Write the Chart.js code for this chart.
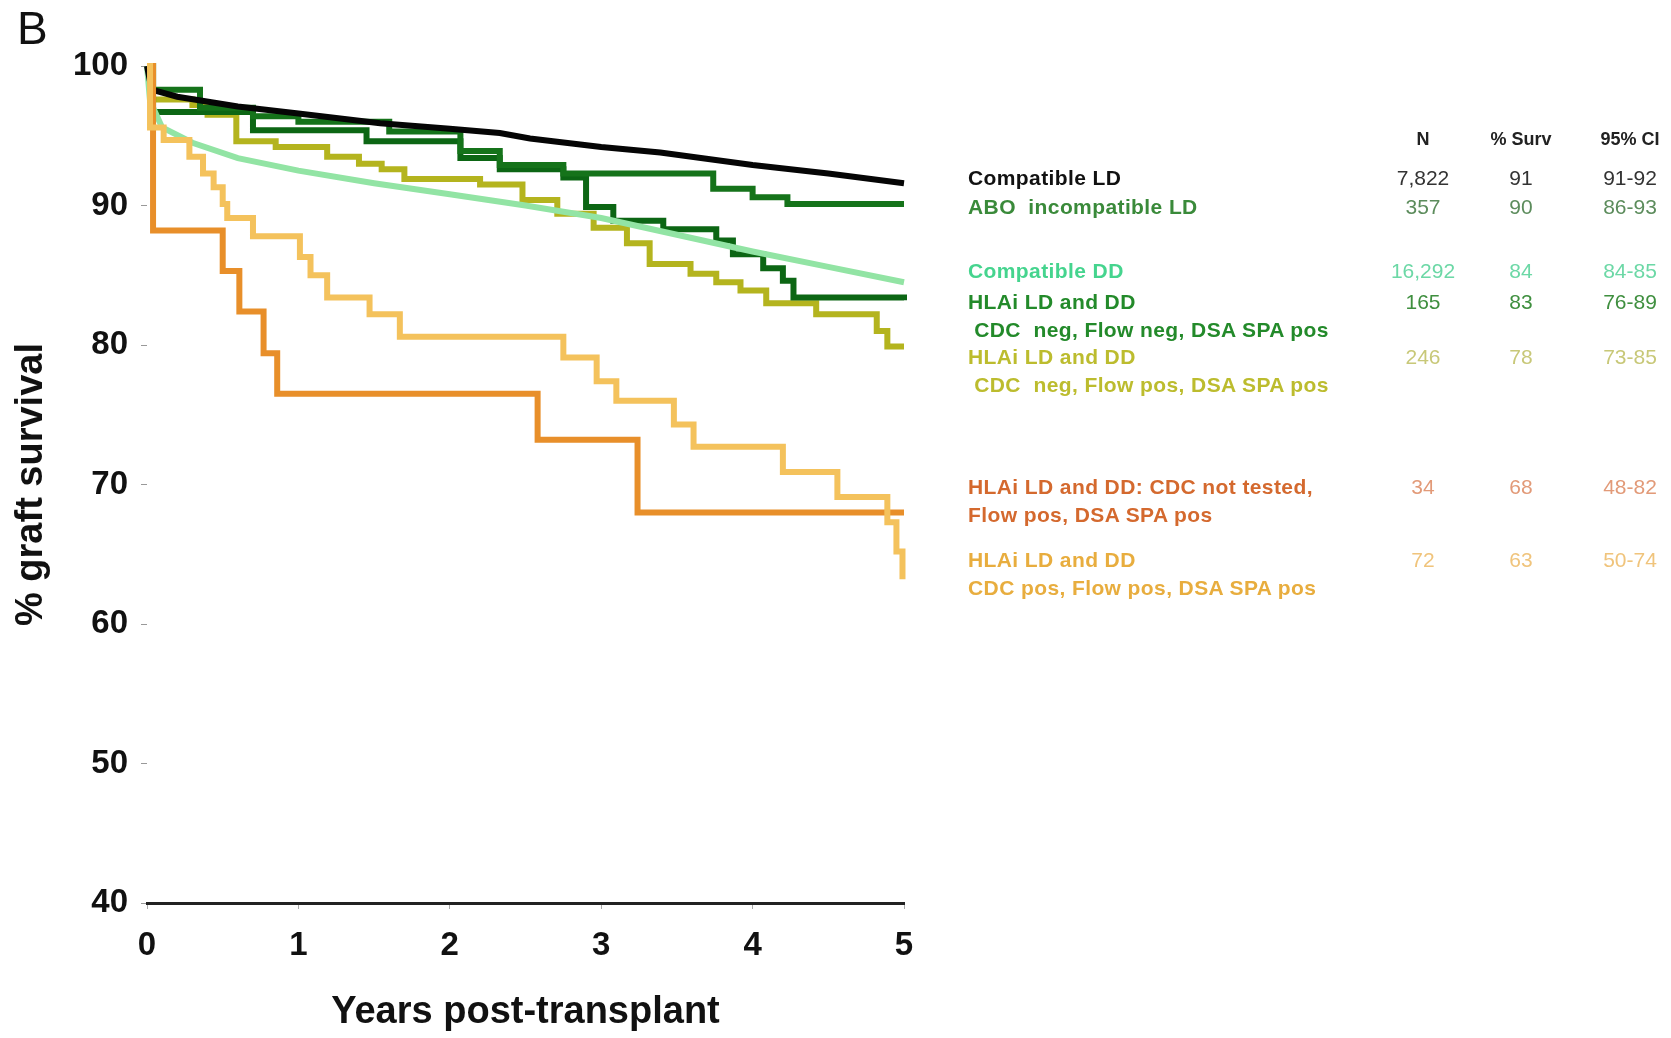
<!DOCTYPE html>
<html>
<head>
<meta charset="utf-8">
<script src="https://cdn.jsdelivr.net/npm/chart.js@4.4.1/dist/chart.umd.min.js"></script>
<style>
  html, body { margin: 0; padding: 0; background: #fff; }
  #wrap { position: relative; width: 1671px; height: 1038px; overflow: hidden; }
  #chart { position: absolute; left: 0; top: 0; }
  .txt { position: absolute; white-space: pre; font-family: "Liberation Sans", Arial, sans-serif; line-height: 24px; }
  .bold { font-weight: bold; }
</style>
</head>
<body>
<div id="wrap">
  <canvas id="chart" width="1671" height="1038"></canvas>
  <div class="txt" style="left:17px; top:5px; font-size:46px; line-height:46px; color:#111;">B</div>
  <div id="legend"></div>
</div>
<script>
// time axis values (years) and survival (%)
const compLdT = [0, 0.03, 0.2, 0.6, 1.0, 1.54, 2.0, 2.33, 2.53, 3.0, 3.39, 4.0, 4.5, 5.0];
const compLdS = [100, 98.3, 97.8, 97.1, 96.6, 95.9, 95.5, 95.2, 94.8, 94.2, 93.8, 92.9, 92.3, 91.6];

const aboT = [0, 0.04, 0.35, 0.7, 1.0, 1.6, 2.07, 2.33, 2.75, 3.74, 4.0, 4.23, 5.0];
const aboS = [100, 98.3, 97.0, 96.4, 96.0, 95.3, 93.9, 92.9, 92.3, 91.2, 90.6, 90.1, 90.1];

const compDdT = [0, 0.02, 0.1, 0.3, 0.6, 1.0, 1.5, 2.0, 2.5, 3.0, 3.5, 4.0, 4.5, 5.0];
const compDdS = [100, 97.5, 95.6, 94.5, 93.4, 92.5, 91.6, 90.8, 90.0, 89.1, 87.9, 86.7, 85.6, 84.5];

const negNegT = [0, 0.04, 0.7, 1.45, 2.07, 2.33, 2.75, 2.9, 3.08, 3.41, 3.76, 3.87, 4.07, 4.2, 4.27, 5.0];
const negNegS = [100, 96.7, 95.4, 94.6, 93.4, 92.6, 92.0, 89.9, 88.9, 88.3, 87.5, 86.5, 85.5, 84.6, 83.4, 83.2];

const negPosT = [0, 0.02, 0.3, 0.4, 0.59, 0.85, 1.19, 1.4, 1.55, 1.7, 2.2, 2.48, 2.71, 2.95, 3.17, 3.32, 3.59, 3.76, 3.92, 4.09, 4.42, 4.82, 4.89, 5.0];
const negPosS = [100, 97.6, 97.2, 96.5, 94.6, 94.2, 93.5, 93.0, 92.6, 91.9, 91.5, 90.4, 89.4, 88.4, 87.3, 85.8, 85.1, 84.5, 83.9, 83.0, 82.2, 81.0, 79.9, 79.9];

const notTestedT = [0, 0.04, 0.50, 0.61, 0.77, 0.86, 2.58, 3.24, 5.0];
const notTestedS = [100, 88.2, 85.3, 82.4, 79.4, 76.5, 73.2, 68.0, 68.0];

const cdcPosT = [0, 0.02, 0.11, 0.28, 0.37, 0.44, 0.50, 0.53, 0.70, 1.01, 1.08, 1.19, 1.47, 1.67, 2.75, 2.97, 3.10, 3.48, 3.61, 4.20, 4.56, 4.89, 4.95, 4.99];
const cdcPosS = [100, 95.6, 94.7, 93.5, 92.3, 91.3, 90.1, 89.1, 87.8, 86.3, 85.0, 83.4, 82.2, 80.6, 79.1, 77.4, 76.0, 74.3, 72.7, 70.9, 69.1, 67.3, 65.2, 63.2];

// legend table
const groupLabels = [
    'Compatible LD',
    'ABO  incompatible LD',
    'Compatible DD',
    'HLAi LD and DD\n CDC  neg, Flow neg, DSA SPA pos',
    'HLAi LD and DD\n CDC  neg, Flow pos, DSA SPA pos',
    'HLAi LD and DD: CDC not tested,\nFlow pos, DSA SPA pos',
    'HLAi LD and DD\nCDC pos, Flow pos, DSA SPA pos'
];
const groupN = ['7,822', '357', '16,292', '165', '246', '34', '72'];
const groupSurv = ['91', '90', '84', '83', '78', '68', '63'];
const groupCI = ['91-92', '86-93', '84-85', '76-89', '73-85', '48-82', '50-74'];
const tableHeaders = ['N', '% Surv', '95% CI'];

// styles
const lineColors = ['#050505', '#15731a', '#92e4a4', '#0c6614', '#b4b41e', '#e88f2a', '#f4c25c'];
const labelColors = ['#111111', '#3a8a3a', '#45d48e', '#238a2a', '#bcbc2e', '#d4692e', '#e8ad3e'];
const numberColors = ['#333333', '#5c8c5c', '#6cd8a6', '#3f8f3f', '#c8c878', '#e29a78', '#f0c47c'];
const rowY = [178, 207, 271, 302, 357, 487, 560];
const colX = [1423, 1521, 1630];
const fontFamily = '"Liberation Sans", Arial, sans-serif';

function toPoints(ts, ss) {
    return ts.map((t, i) => ({ x: t, y: ss[i] }));
}

function makeSet(ts, ss, idx, stepped, width) {
    return {
        data: toPoints(ts, ss),
        borderColor: lineColors[idx],
        borderWidth: width,
        borderJoinStyle: 'miter',
        borderCapStyle: 'butt',
        stepped: stepped,
        fill: false,
        pointRadius: 0,
        clip: 10
    };
}

// first dataset ends up on top
const datasets = [
    makeSet(cdcPosT, cdcPosS, 6, true, 6),
    makeSet(notTestedT, notTestedS, 5, true, 6),
    makeSet(compLdT, compLdS, 0, false, 6),
    makeSet(compDdT, compDdS, 2, false, 6),
    makeSet(aboT, aboS, 1, true, 6),
    makeSet(negNegT, negNegS, 3, true, 6),
    makeSet(negPosT, negPosS, 4, true, 6)
];

new Chart(document.getElementById('chart'), {
    type: 'line',
    data: { datasets },
    options: {
        responsive: false,
        animation: false,
        devicePixelRatio: 1,
        layout: { padding: { top: 66, right: 1671 - 904, bottom: 0, left: 0 } },
        plugins: { legend: { display: false }, tooltip: { enabled: false } },
        scales: {
            x: {
                type: 'linear',
                min: 0,
                max: 5,
                ticks: { stepSize: 1, padding: 17, color: '#111', font: { family: fontFamily, size: 33, weight: 'bold' } },
                border: { display: true, color: '#222', width: 3 },
                grid: { drawOnChartArea: false, tickLength: 6, color: '#aaa' },
                title: {
                    display: true,
                    text: 'Years post-transplant',
                    color: '#111',
                    font: { family: fontFamily, size: 38, weight: 'bold' },
                    padding: { top: 0, bottom: 3 }
                },
                afterFit: (s) => { s.height = 1038 - 903; }
            },
            y: {
                min: 40,
                max: 100,
                ticks: { stepSize: 10, padding: 13, color: '#111', font: { family: fontFamily, size: 33, weight: 'bold' } },
                border: { display: false },
                grid: { drawOnChartArea: false, tickLength: 6, color: '#999' },
                title: {
                    display: true,
                    text: '% graft survival',
                    color: '#111',
                    font: { family: fontFamily, size: 38, weight: 'bold' },
                    padding: { top: 9, bottom: 0 }
                },
                afterFit: (s) => { s.width = 147; }
            }
        }
    }
});

// legend table as real text
const legendEl = document.getElementById('legend');

function addText(text, x, y, size, color, bold, center) {
    const d = document.createElement('div');
    d.className = 'txt' + (bold ? ' bold' : '');
    d.textContent = text;
    d.style.fontSize = size + 'px';
    d.style.color = color;
    d.style.top = (y - 12) + 'px';
    if (center) {
        d.style.left = (x - 60) + 'px';
        d.style.width = '120px';
        d.style.textAlign = 'center';
    } else {
        d.style.left = x + 'px';
        d.style.letterSpacing = '0.4px';
    }
    legendEl.appendChild(d);
}

tableHeaders.forEach((h, i) => addText(h, colX[i], 139, 18, '#222', true, true));

groupLabels.forEach((label, i) => {
    label.split('\n').forEach((line, j) => {
        addText(line, 968, rowY[i] + j * 28, 21, labelColors[i], true, false);
    });
    addText(groupN[i], colX[0], rowY[i], 21, numberColors[i], false, true);
    addText(groupSurv[i], colX[1], rowY[i], 21, numberColors[i], false, true);
    addText(groupCI[i], colX[2], rowY[i], 21, numberColors[i], false, true);
});
</script>
</body>
</html>
